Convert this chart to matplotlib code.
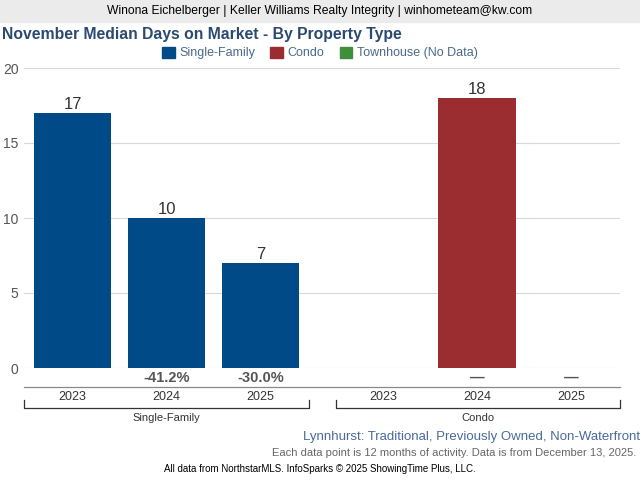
import numpy as np
import matplotlib.pyplot as plt
from matplotlib.patches import Patch

plt.rcParams['font.family'] = ['Liberation Sans', 'DejaVu Sans']

# data
groups = ["Single-Family", "Condo"]
years = ["2023", "2024", "2025"]
single_family = [17, 10, 7]
condo = [None, 18, None]
sf_change = ["", "-41.2%", "-30.0%"]
condo_change = ["", "\u2014", "\u2014"]
yticks = [0, 5, 10, 15, 20]

blue = "#004B87"
red = "#9B2D30"
green = "#3E8E3A"
gray_txt = "#555555"

fig = plt.figure(figsize=(6.4, 4.8), dpi=100)

# header band
fig.patches.append(plt.Rectangle((0, 1 - 22 / 480), 1, 22 / 480, transform=fig.transFigure,
                                 color="#EBEBEB", zorder=0))
fig.text(0.5, 1 - 11 / 480, "Winona Eichelberger | Keller Williams Realty Integrity | winhometeam@kw.com",
         ha="center", va="center", fontsize=8.7, color="black")
fig.text(2 / 640, 1 - 34 / 480, "November Median Days on Market - By Property Type",
         ha="left", va="center", fontsize=11.3, fontweight="bold", color="#2B4A6F")

ax = fig.add_axes([24 / 640, 1 - 368 / 480, 596 / 640, 300 / 480])

sf_x = np.arange(3)
condo_x = np.arange(3) + 3.3
width = 0.82

ax.bar(sf_x, single_family, width=width, color=blue, zorder=3)
for x, v in zip(sf_x, single_family):
    ax.text(x, v + 0.05, str(v), ha="center", va="bottom", fontsize=12, color="#333333")
for x, v in zip(condo_x, condo):
    if v is not None:
        ax.bar(x, v, width=width, color=red, zorder=3)
        ax.text(x, v + 0.05, str(v), ha="center", va="bottom", fontsize=12, color="#333333")

ax.set_xlim(-0.516, 5.82)
ax.set_ylim(0, 20)
ax.set_yticks(yticks)
ax.tick_params(axis="y", length=0, labelsize=10, labelcolor=gray_txt, pad=4)
ax.set_xticks([])
ax.grid(axis="y", color="#D9D9D9", linewidth=0.8, zorder=0)
for s in ax.spines.values():
    s.set_visible(False)

trans = ax.get_xaxis_transform()
all_x = list(sf_x) + list(condo_x)
changes = sf_change + condo_change
for x, c in zip(all_x, changes):
    ax.text(x, -10 / 300, c, ha="center", va="center", fontsize=10.5, fontweight="bold",
            color=gray_txt, transform=trans, clip_on=False)
for x, yr in zip(all_x, years + years):
    ax.text(x, -29 / 300, yr, ha="center", va="center", fontsize=9, color="#333333",
            transform=trans, clip_on=False)

# separator line under percentages
ax.plot([-0.516, 5.82], [-19 / 300, -19 / 300], color="#888888", linewidth=0.9,
        transform=trans, clip_on=False)

# group brackets
for lo, hi, name in [(-0.516, 2.516, groups[0]), (2.8, 5.82, groups[1])]:
    yb = -40 / 300
    ax.plot([lo, lo, hi, hi], [yb + 8 / 300, yb, yb, yb + 8 / 300], color="#333333",
            linewidth=0.9, transform=trans, clip_on=False)
    ax.text((lo + hi) / 2, -50 / 300, name, ha="center", va="center", fontsize=8,
            color="#333333", transform=trans, clip_on=False)

handles = [Patch(color=blue, label="Single-Family"), Patch(color=red, label="Condo"),
           Patch(color=green, label="Townhouse (No Data)")]
fig.legend(handles=handles, loc="center", bbox_to_anchor=(0.5, 1 - 53 / 480), ncol=3,
           frameon=False, fontsize=9, handlelength=1.0, handleheight=1.0,
           columnspacing=1.2, handletextpad=0.4, labelcolor="#4A6A8A")

fig.text(640 / 640, 1 - 437 / 480, "Lynnhurst: Traditional, Previously Owned, Non-Waterfront",
         ha="right", va="center", fontsize=9.5, color="#4A6A9A")
fig.text(636 / 640, 1 - 453 / 480, "Each data point is 12 months of activity. Data is from December 13, 2025.",
         ha="right", va="center", fontsize=8, color="#666666")
fig.text(0.5, 1 - 469 / 480, "All data from NorthstarMLS. InfoSparks \u00a9 2025 ShowingTime Plus, LLC.",
         ha="center", va="center", fontsize=7, color="black")

fig.savefig("out.png", dpi=100)
